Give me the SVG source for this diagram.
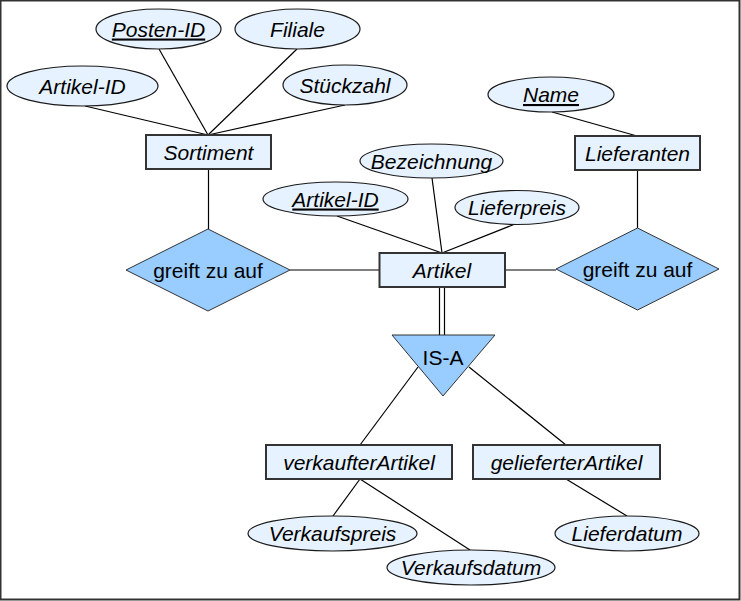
<svg xmlns="http://www.w3.org/2000/svg" width="741" height="601" viewBox="0 0 741 601">
<style>
.ell{fill:#e6f2ff;stroke:#1a1a1a;stroke-width:1.2}
.ent{fill:#e6f2ff;stroke:#333;stroke-width:2}
.rel{fill:#99ccff;stroke:#333;stroke-width:1}
.t{font-family:"Liberation Sans",Arial,sans-serif;font-size:21px;font-style:italic;fill:#000;text-anchor:middle}
.n{font-family:"Liberation Sans",Arial,sans-serif;font-size:21px;fill:#000;text-anchor:middle}
.u{text-decoration:underline}
.c line{stroke:#000;stroke-width:1.2}
</style>
<rect x="0" y="0" width="741" height="601" fill="#fff"/>
<path d="M0.5 0.5 H739.5 V599.5 H0.5 Z" fill="none" stroke="#333" stroke-width="2"/>
<g class="c" id="connectors">
<line x1="85" y1="106" x2="208" y2="135"/>
<line x1="159" y1="49" x2="208" y2="135"/>
<line x1="297" y1="49" x2="208" y2="135"/>
<line x1="345" y1="105" x2="208" y2="135"/>
<line x1="208.5" y1="169" x2="208.5" y2="229"/>
<line x1="290" y1="270" x2="379" y2="270"/>
<line x1="337" y1="216" x2="442" y2="253"/>
<line x1="432" y1="178" x2="442" y2="253"/>
<line x1="515" y1="224" x2="442" y2="253"/>
<line x1="552" y1="112" x2="637" y2="136"/>
<line x1="637.5" y1="170" x2="637.5" y2="228"/>
<line x1="505" y1="270" x2="556" y2="270"/>
<line x1="439.5" y1="287" x2="439.5" y2="335"/>
<line x1="444.5" y1="287" x2="444.5" y2="335"/>
<line x1="418" y1="367" x2="360" y2="445"/>
<line x1="469" y1="367" x2="566" y2="445"/>
<line x1="360" y1="479" x2="333" y2="516"/>
<line x1="360" y1="479" x2="470" y2="550"/>
<line x1="566" y1="479" x2="627" y2="516"/>
</g>
<g id="posten-id"><ellipse class="ell" cx="158.5" cy="29" rx="62.5" ry="20"/><text class="t u" x="158.5" y="36.5">Posten-ID</text></g>
<g id="filiale"><ellipse class="ell" cx="297.5" cy="29" rx="62.5" ry="20"/><text class="t" x="297.5" y="36.5">Filiale</text></g>
<g id="artikel-id-1"><ellipse class="ell" cx="82.5" cy="86" rx="75.5" ry="20"/><text class="t" x="82.5" y="93.5">Artikel-ID</text></g>
<g id="stueckzahl"><ellipse class="ell" cx="345" cy="85" rx="62" ry="20"/><text class="t" x="345" y="92.5">Stückzahl</text></g>
<g id="sortiment"><rect class="ent" x="146" y="135" width="125" height="34"/><text class="t" x="208.5" y="159.5">Sortiment</text></g>
<g id="rel-sortiment"><polygon class="rel" points="126,270 208,229 290,270 208,311"/><text class="n" x="208" y="277.5">greift zu auf</text></g>
<g id="bezeichnung"><ellipse class="ell" cx="431.5" cy="161" rx="71.5" ry="17"/><text class="t" x="431.5" y="168.5">Bezeichnung</text></g>
<g id="artikel-id-2"><ellipse class="ell" cx="335.5" cy="199" rx="72.5" ry="17"/><text class="t u" x="335.5" y="206.5">Artikel-ID</text></g>
<g id="lieferpreis"><ellipse class="ell" cx="517" cy="207.5" rx="62" ry="17"/><text class="t" x="517" y="215">Lieferpreis</text></g>
<g id="artikel"><rect class="ent" x="379.5" y="253" width="125.5" height="34"/><text class="t" x="442" y="277.5">Artikel</text></g>
<g id="name"><ellipse class="ell" cx="551" cy="94.5" rx="63" ry="17.5"/><text class="t u" x="551" y="102">Name</text></g>
<g id="lieferanten"><rect class="ent" x="575" y="136" width="125" height="34"/><text class="t" x="637.5" y="160.5">Lieferanten</text></g>
<g id="rel-lieferanten"><polygon class="rel" points="556,269 637.5,228 719,269 637.5,310"/><text class="n" x="637.5" y="276.5">greift zu auf</text></g>
<g id="is-a"><polygon class="rel" points="392,335 495,335 443,396"/><text class="n" x="443" y="364.5">IS-A</text></g>
<g id="verkaufterartikel"><rect class="ent" x="266" y="445" width="186" height="34"/><text class="t" x="359" y="469.5">verkaufterArtikel</text></g>
<g id="gelieferterartikel"><rect class="ent" x="473" y="445" width="187" height="34"/><text class="t" x="566.5" y="469.5">gelieferterArtikel</text></g>
<g id="verkaufspreis"><ellipse class="ell" cx="332.5" cy="533.5" rx="84.5" ry="17.5"/><text class="t" x="332.5" y="541">Verkaufspreis</text></g>
<g id="verkaufsdatum"><ellipse class="ell" cx="471" cy="567.5" rx="84" ry="17.5"/><text class="t" x="471" y="575">Verkaufsdatum</text></g>
<g id="lieferdatum"><ellipse class="ell" cx="627" cy="533.5" rx="72" ry="17.5"/><text class="t" x="627" y="541">Lieferdatum</text></g>
</svg>
